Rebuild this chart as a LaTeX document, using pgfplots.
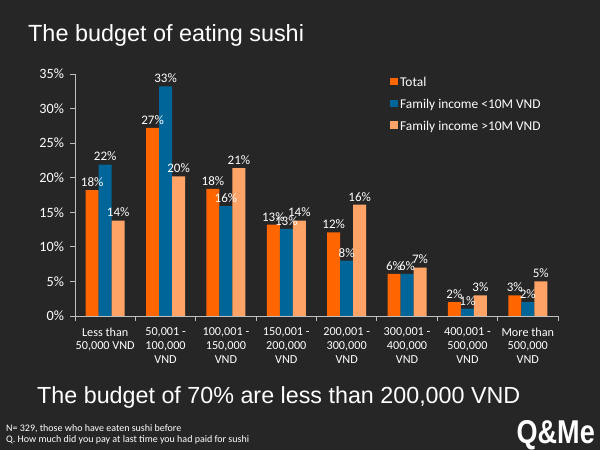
\documentclass[border=0pt]{standalone}
\usepackage{pgfplots}
\pgfplotsset{compat=1.18}
\usepackage{fontspec}
\usepackage{graphicx}
\setmainfont{Carlito}
\newfontfamily\arial{Liberation Sans}
\definecolor{bg}{HTML}{262626}
\definecolor{cTot}{HTML}{FF6600}
\definecolor{cLow}{HTML}{006699}
\definecolor{cHigh}{HTML}{FFA366}
\definecolor{axc}{HTML}{BFBFBF}
\pgfplotsset{sqleg/.style={legend image code/.code={\fill[##1] (0pt,-2.5pt) rectangle (8pt,5pt);}}}
\begin{document}
\begin{tikzpicture}[x=1pt,y=1pt]
\useasboundingbox (0,0) rectangle (600,450);
\fill[bg] (0,0) rectangle (600,450);
\node[anchor=base west, text=white, font=\arial\fontsize{23.4}{23.4}\selectfont, inner sep=0] at (28,408) {The budget of eating sushi};
\node[anchor=base west, text=white, font=\arial\fontsize{23.3}{23.3}\selectfont, inner sep=0] at (37,46.5) {The budget of 70\% are less than 200,000 VND};
\node[anchor=base west, text=white, font=\fontsize{10}{10}\selectfont, inner sep=0] at (6,18) {N= 329, those who have eaten sushi before};
\node[anchor=base west, text=white, font=\fontsize{10}{10}\selectfont, inner sep=0] at (6,7.5) {Q. How much did you pay at last time you had paid for sushi};
\node[anchor=base east, text=white, inner sep=0] at (595,6) {\scalebox{0.82}[1]{\arial\bfseries\fontsize{33}{33}\selectfont Q\&Me}};
\begin{axis}[
  at={(75pt,134pt)}, anchor=south west,
  scale only axis, width=483pt, height=242pt,
  ybar=0pt, bar width=13pt,
  xmin=-0.5, xmax=7.5, ymin=0, ymax=35,
  axis lines=left,
  x axis line style={-}, y axis line style={-},
  axis line style={draw=axc, line width=0.8pt},
  tick align=outside,
  tick style={draw=axc, line width=0.8pt},
  major tick length=5pt, minor tick length=5pt,
  ytick={0,5,...,35},
  yticklabel={\pgfmathprintnumber{\tick}\%},
  /pgf/number format/assume math mode=true,
  y tick label style={font=\fontsize{14.2}{14.2}\selectfont, text=white, xshift=-2.5pt},
  xtick={0,...,7},
  every major x tick/.append style={draw=none},
  minor xtick={-0.5,0.5,...,7.5},
  xticklabels={{Less than\\50,000 VND},{50,001 -\\100,000\\VND},{100,001 -\\150,000\\VND},{150,001 -\\200,000\\VND},{200,001 -\\300,000\\VND},{300,001 -\\400,000\\VND},{400,001 -\\500,000\\VND},{More than\\500,000\\VND}},
  x tick label style={font=\fontsize{12.2}{13.8}\selectfont, text=white, align=center, yshift=-3pt},
  nodes near coords={\pgfmathprintnumber[fixed,precision=0]{\pgfplotspointmeta}\%},
  every node near coord/.append style={font=\fontsize{13}{13}\selectfont, text=white},
  legend style={at={(0.652,0.995)}, anchor=north west, draw=none, fill=none, text=white,
    font=\fontsize{13.4}{13.4}\selectfont, row sep=7pt, inner sep=0pt},
  legend cell align=left,
]
\addplot[fill=cTot, draw=none, sqleg] coordinates {(0,18.2) (1,27.2) (2,18.4) (3,13.2) (4,12.1) (5,6.1) (6,2.0) (7,3.0)};
\addplot[fill=cLow, draw=none, sqleg] coordinates {(0,21.9) (1,33.2) (2,15.9) (3,12.6) (4,8.0) (5,6.1) (6,1.05) (7,2.0)};
\addplot[fill=cHigh, draw=none, sqleg] coordinates {(0,13.8) (1,20.2) (2,21.4) (3,13.8) (4,16.1) (5,7.0) (6,3.0) (7,5.0)};
\legend{Total, Family income <10M VND, Family income >10M VND}
\end{axis}
\end{tikzpicture}
\end{document}
